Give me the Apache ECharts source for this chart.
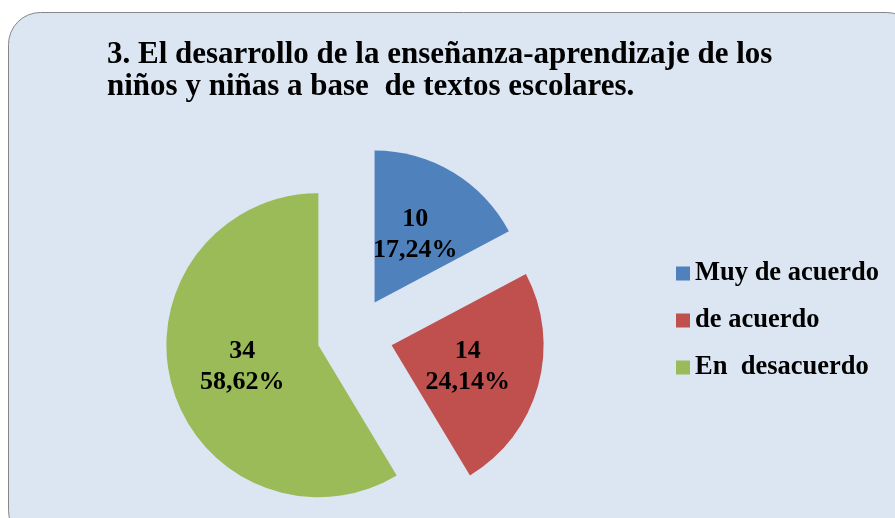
<!DOCTYPE html>
<html>
<head>
<meta charset="utf-8">
<script src="https://cdn.jsdelivr.net/npm/echarts@6/dist/echarts.min.js"></script>
<style>
  html, body { margin: 0; padding: 0; background: #fff; }
  #chart { width: 895px; height: 518px; }
</style>
</head>
<body>
<div id="chart"></div>
<script>
const titleLines = [
  "3. El desarrollo de la enseñanza-aprendizaje de los",
  "niños y niñas a base  de textos escolares."
];
const categories = ["Muy de acuerdo", "de acuerdo", "En  desacuerdo"];
const counts = [10, 14, 34];
const colors = ["#4f81bd", "#c0504d", "#9bbb59"];

const serif = "'Liberation Serif', 'Times New Roman', serif";
const chart = echarts.init(document.querySelector("#chart"));

chart.setOption({
  animation: false,
  backgroundColor: "#ffffff",
  graphic: [
    {
      type: "rect",
      z: -10,
      silent: true,
      shape: { x: 8.5, y: 12.5, width: 910, height: 530, r: 32 },
      style: { fill: "#dce6f2", stroke: "#868686", lineWidth: 1 }
    }
  ],
  title: {
    text: titleLines.join("\n"),
    left: 107,
    top: 39,
    padding: 0,
    textStyle: { fontFamily: serif, fontWeight: "bold", fontSize: 31, lineHeight: 32, color: "#000" }
  },
  legend: {
    orient: "vertical",
    left: 676,
    top: 260,
    padding: 0,
    icon: "rect",
    itemWidth: 14,
    itemHeight: 14,
    itemGap: 20,
    selectedMode: false,
    data: categories,
    textStyle: { fontFamily: serif, fontWeight: "bold", fontSize: 26.5, lineHeight: 25, color: "#000" }
  },
  series: [
    {
      type: "pie",
      center: [355, 335],
      radius: 152,
      startAngle: 90,
      clockwise: true,
      selectedMode: "multiple",
      selectedOffset: 38,
      emphasis: { disabled: true },
      label: {
        show: true,
        position: "inside",
        fontFamily: serif,
        fontWeight: "bold",
        fontSize: 26,
        lineHeight: 31,
        color: "#000",
        formatter: (p) => `${p.value}\n${p.percent.toFixed(2).replace(".", ",")}%`
      },
      labelLine: { show: false },
      data: categories.map((name, i) => ({
        name,
        value: counts[i],
        selected: true,
        itemStyle: { color: colors[i] }
      }))
    }
  ]
});
</script>
</body>
</html>
